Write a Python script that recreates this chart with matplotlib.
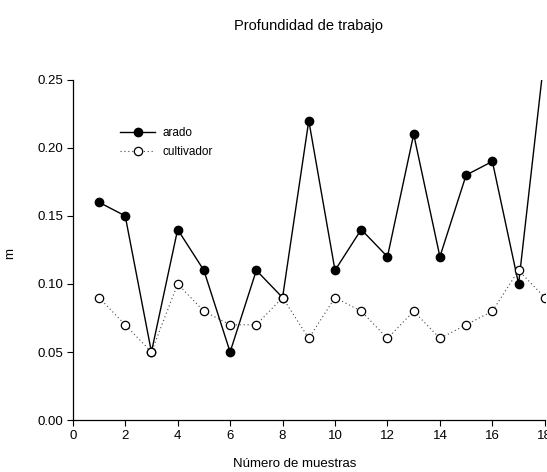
import matplotlib
matplotlib.use("Agg")
import matplotlib.pyplot as plt

plt.rcParams.update({
    "font.family": ["Liberation Sans", "DejaVu Sans"],
    "font.size": 9,
    "xtick.direction": "out",
    "ytick.direction": "out",
})

# ---------- data ----------
muestras = [1, 2, 3, 4, 5, 6, 7, 8, 9, 10, 11, 12, 13, 14, 15, 16, 17, 18]
arado = [0.16, 0.15, 0.05, 0.14, 0.11, 0.05, 0.11, 0.09, 0.22, 0.11,
         0.14, 0.12, 0.21, 0.12, 0.18, 0.19, 0.10, 0.27]
cultivador = [0.09, 0.07, 0.05, 0.10, 0.08, 0.07, 0.07, 0.09, 0.06, 0.09,
              0.08, 0.06, 0.08, 0.06, 0.07, 0.08, 0.11, 0.09]

fig = plt.figure(figsize=(5.47, 4.72), dpi=100)
ax = fig.add_axes([0.133, 0.110, 0.863, 0.721])

ax.plot(muestras, arado, color="black", linewidth=1.0, marker="o",
        markersize=6, markerfacecolor="black", markeredgecolor="black",
        label="arado", zorder=3)
ax.plot(muestras, cultivador, color="#444444", linewidth=0.8, linestyle=(0, (1, 2.5)),
        marker="o", markersize=6, markerfacecolor="white",
        markeredgecolor="black", markeredgewidth=0.9,
        label="cultivador", zorder=4)

ax.set_xlim(0, 18)
ax.set_ylim(0, 0.25)
ax.set_xticks(range(0, 19, 2))
ax.set_yticks([0.0, 0.05, 0.10, 0.15, 0.20, 0.25])
ax.set_yticklabels(["0.00", "0.05", "0.10", "0.15", "0.20", "0.25"])
ax.tick_params(labelsize=9.5, length=4, width=0.8, pad=3)

for s in ["top", "right"]:
    ax.spines[s].set_visible(False)
for s in ["left", "bottom"]:
    ax.spines[s].set_linewidth(0.9)

ax.set_xlabel("Número de muestras", fontsize=9.5)
ax.xaxis.set_label_coords(0.47, -0.112)
ax.set_ylabel("m", fontsize=9.5)
ax.yaxis.set_label_coords(-0.12, 0.49)
ax.set_title("Profundidad de trabajo", fontsize=10.5, pad=36)

ax.legend(loc="upper left", bbox_to_anchor=(0.09, 0.875), frameon=False,
          fontsize=8.5, handlelength=3, handletextpad=0.6, labelspacing=0.6,
          borderaxespad=0)

fig.savefig("out.png", dpi=100, facecolor="white")
